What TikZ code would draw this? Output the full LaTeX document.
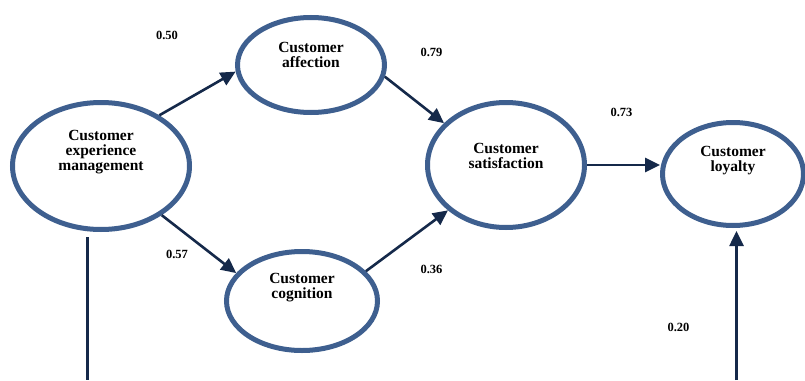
\documentclass[tikz,border=0pt]{standalone}
\usepackage{fontspec}
\setmainfont{Liberation Serif}
\usetikzlibrary{shapes.geometric,arrows.meta}
\definecolor{ellblue}{HTML}{3E5F8F}
\definecolor{navy}{HTML}{15294A}
\begin{document}
\begin{tikzpicture}[x=1pt,y=-1pt,
  latent/.style={ellipse, draw=ellblue, line width=5pt, inner sep=0pt, fill=white},
  lbl/.style={font=\fontsize{15.5}{15}\selectfont\bfseries, align=center, inner sep=0pt},
  coef/.style={font=\fontsize{12.5}{14}\selectfont\bfseries, inner sep=0pt},
  effect/.style={draw=navy, line width=2.6pt, -{Triangle[length=15pt,width=14pt]}},
  plainline/.style={draw=navy, line width=2.6pt}]
\useasboundingbox (0,0) rectangle (805,380);
% latent variables
\node[latent, minimum width=177pt, minimum height=127pt] (cem) at (101,166) {};
\node[latent, minimum width=147pt, minimum height=95pt] (aff) at (311,65) {};
\node[latent, minimum width=157pt, minimum height=125pt] (sat) at (506,165) {};
\node[latent, minimum width=141pt, minimum height=103pt] (loy) at (733,174) {};
\node[latent, minimum width=151pt, minimum height=99pt] (cog) at (302,301) {};
% labels
\node[lbl] (cemt) at (101,152) {Customer\\experience\\management};
\node[lbl] (afft) at (311,55) {Customer\\affection};
\node[lbl] (satt) at (506,156) {Customer\\satisfaction};
\node[lbl] (loyt) at (733,161) {Customer\\loyalty};
\node[lbl] (cogt) at (302,288) {Customer\\cognition};
% coefficients
\node[coef] (c1) at (167,35) {0.50};
\node[coef] (c2) at (431.5,52.5) {0.79};
\node[coef] (c3) at (621.5,112.5) {0.73};
\node[coef] (c4) at (177,254) {0.57};
\node[coef] (c5) at (431.5,269.5) {0.36};
\node[coef] (c6) at (678.5,327.5) {0.20};
% free ends
\coordinate (loyin) at (736.5,380);
\coordinate (leftend) at (87.5,380);
% paths
\draw[effect] (cem.41.5) -- (aff.185.9);
\draw[effect] (aff.-9.2) -- (sat.146.5);
\draw[effect] (cem.-39.7) -- (cog.157.2);
\draw[effect] (cog.25.8) -- (sat.218.8);
\draw[effect] (sat.east) -- (sat.east -| loy.west);
\draw[effect, shorten >=3pt] (loyin) -- (loyin |- loy.south);
\draw[plainline, shorten <=5pt] (cem.south -| leftend) -- (leftend);
\end{tikzpicture}
\end{document}
